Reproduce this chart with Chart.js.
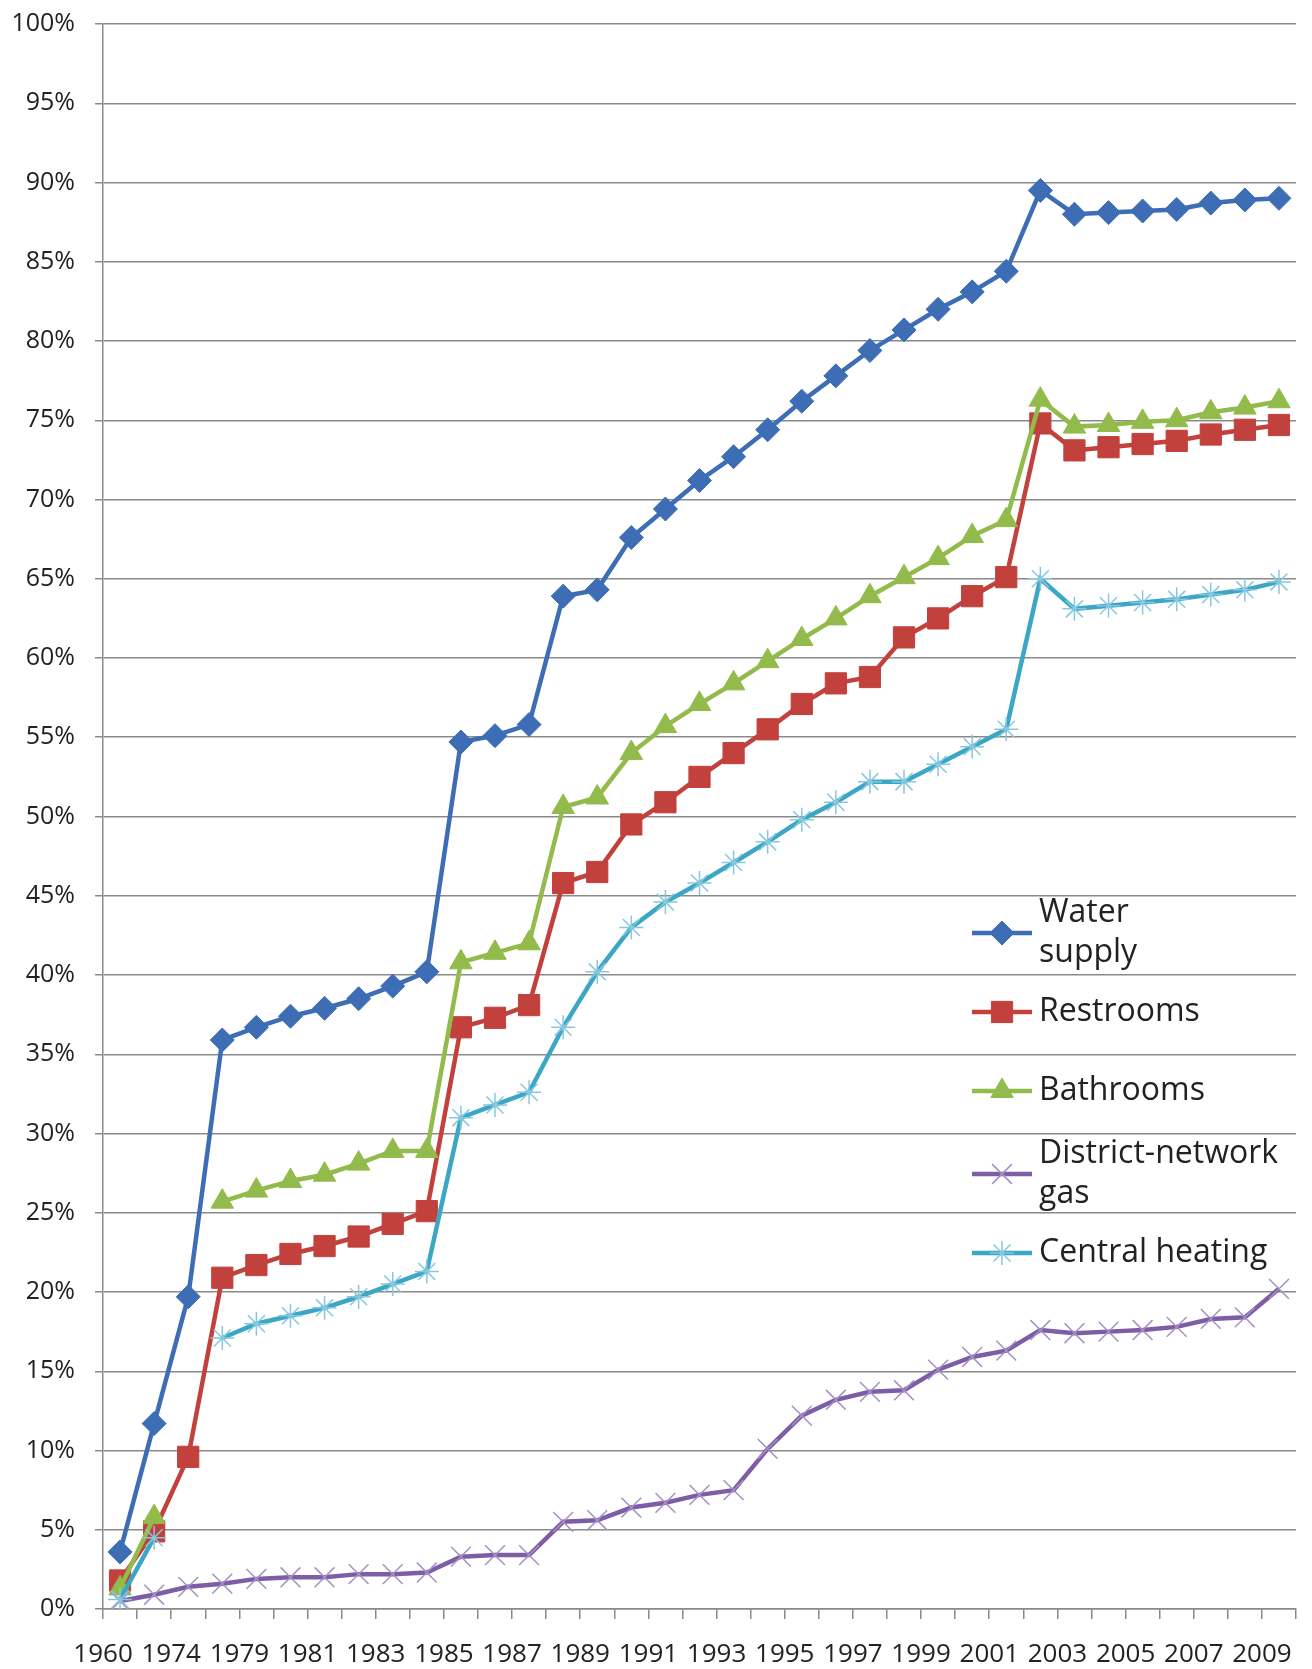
<!DOCTYPE html>
<html>
<head>
<meta charset="utf-8">
<script src="https://cdn.jsdelivr.net/npm/chart.js@4/dist/chart.umd.min.js"></script>
<style>
  html, body { margin: 0; padding: 0; background: #fff; }
  #wrap { width: 1312px; height: 1669px; position: relative; }
</style>
</head>
<body>
<div id="wrap"><canvas id="amenities-chart"></canvas></div>
<script>
// Categories (only every other one is labelled on the axis)
const years = ['1960', '1970', '1974', '1977', '1979', '1980', '1981', '1982', '1983', '1984',
    '1985', '1986', '1987', '1988', '1989', '1990', '1991', '1992', '1993', '1994',
    '1995', '1996', '1997', '1998', '1999', '2000', '2001', '2002', '2003', '2004',
    '2005', '2006', '2007', '2008', '2009'];

// Share of dwellings, %
const waterSupply = [3.6, 11.7, 19.7, 35.9, 36.7, 37.4, 37.9, 38.5, 39.3, 40.2,
    54.7, 55.1, 55.8, 63.9, 64.3, 67.6, 69.4, 71.2, 72.7, 74.4,
    76.2, 77.8, 79.4, 80.7, 82.0, 83.1, 84.4, 89.5, 88.0, 88.1,
    88.2, 88.3, 88.7, 88.9, 89.0];
const restrooms = [1.8, 4.9, 9.6, 20.9, 21.7, 22.4, 22.9, 23.5, 24.3, 25.1,
    36.7, 37.3, 38.1, 45.8, 46.5, 49.5, 50.9, 52.5, 54.0, 55.5,
    57.1, 58.4, 58.8, 61.3, 62.5, 63.9, 65.1, 74.8, 73.1, 73.3,
    73.5, 73.7, 74.1, 74.4, 74.7];
const bathrooms = [1.3, 5.8, null, 25.7, 26.4, 27.0, 27.4, 28.1, 28.9, 28.9,
    40.8, 41.4, 42.0, 50.6, 51.2, 54.0, 55.7, 57.1, 58.4, 59.8,
    61.2, 62.5, 63.9, 65.1, 66.3, 67.7, 68.7, 76.3, 74.6, 74.7,
    74.9, 75.0, 75.5, 75.8, 76.2];
const districtGas = [0.5, 0.9, 1.4, 1.6, 1.9, 2.0, 2.0, 2.2, 2.2, 2.3,
    3.3, 3.4, 3.4, 5.5, 5.6, 6.4, 6.7, 7.2, 7.5, 10.1,
    12.2, 13.2, 13.7, 13.8, 15.1, 15.9, 16.3, 17.6, 17.4, 17.5,
    17.6, 17.8, 18.3, 18.4, 20.2];
const centralHeating = [0.6, 4.5, null, 17.1, 18.0, 18.5, 19.0, 19.7, 20.5, 21.3,
    31.0, 31.8, 32.6, 36.7, 40.2, 43.0, 44.6, 45.8, 47.1, 48.4,
    49.8, 50.9, 52.2, 52.2, 53.3, 54.4, 55.5, 65.0, 63.1, 63.3,
    63.5, 63.7, 64.0, 64.3, 64.8];

// Legend text, as wrapped in the original
const legendText = [['Water', 'supply'], ['Restrooms'], ['Bathrooms'], ['District-network', 'gas'], ['Central heating']];

const gridColor = '#8a8a8a';
const textColor = '#222222';

function series(idx, values, color, style, radius, markerColor, markerWidth) {
    return {
        label: legendText[idx].join(' '),
        data: values,
        borderColor: color,
        backgroundColor: color,
        borderWidth: 4.5,
        pointStyle: style,
        pointRadius: radius,
        pointHoverRadius: radius,
        pointBackgroundColor: markerColor || color,
        pointBorderColor: markerColor || color,
        pointBorderWidth: markerWidth || 1,
        tension: 0,
        spanGaps: false,
        order: 5 - idx
    };
}

// Legend drawn inside the plot, right side
const insideLegend = {
    id: 'insideLegend',
    afterDatasetsDraw(chart) {
        const ctx = chart.ctx;
        const x0 = 972, x1 = 1032, tx = 1039;
        const rowY = [933, 1012, 1091, 1174, 1253];
        ctx.save();
        chart.data.datasets.forEach((ds, i) => {
            const y = rowY[i];
            ctx.strokeStyle = ds.borderColor;
            ctx.lineWidth = ds.borderWidth;
            ctx.beginPath();
            ctx.moveTo(x0, y);
            ctx.lineTo(x1, y);
            ctx.stroke();

            ctx.fillStyle = ds.pointBackgroundColor;
            ctx.strokeStyle = ds.pointBorderColor;
            ctx.lineWidth = ds.pointBorderWidth;
            Chart.helpers.drawPoint(ctx, {
                pointStyle: ds.pointStyle,
                radius: ds.pointRadius,
                borderWidth: ds.pointBorderWidth,
                rotation: 0
            }, (x0 + x1) / 2, y);

            const lines = legendText[i];
            ctx.fillStyle = textColor;
            ctx.font = '32px "Open Sans"';
            ctx.textAlign = 'left';
            ctx.textBaseline = 'middle';
            lines.forEach((t, j) => {
                ctx.fillText(t, tx, y + (j - (lines.length - 1) / 2) * 40);
            });
        });
        ctx.restore();
    }
};

const ctxEl = document.getElementById('amenities-chart');
new Chart(ctxEl.getContext('2d'), {
    type: 'line',
    data: {
        labels: years,
        datasets: [
            series(0, waterSupply, '#3d6db5', 'rectRot', 12),
            series(1, restrooms, '#c2413d', 'rect', 15),
            series(2, bathrooms, '#92bb4c', 'triangle', 13),
            series(3, districtGas, '#7d5ea6', 'crossRot', 14, '#a590c4', 1.5),
            series(4, centralHeating, '#3ba7c4', 'star', 12, '#86c8df', 1.5)
        ]
    },
    options: {
        responsive: true,
        maintainAspectRatio: false,
        animation: false,
        layout: {
            padding: { top: 24, right: 0, bottom: 0, left: 0 }
        },
        plugins: {
            legend: { display: false },
            tooltip: { enabled: false }
        },
        scales: {
            x: {
                offset: true,
                grid: {
                    offset: true,
                    drawOnChartArea: false,
                    drawTicks: true,
                    tickLength: 10,
                    color: gridColor,
                    lineWidth: 1.5
                },
                border: { display: true, color: gridColor, width: 1.5 },
                ticks: {
                    autoSkip: false,
                    maxRotation: 0,
                    minRotation: 0,
                    padding: 20,
                    labelOffset: -17,
                    color: textColor,
                    font: { family: 'Open Sans', size: 26 },
                    callback: function(val, i) {
                        return i % 2 === 0 ? years[i] : '';
                    }
                },
                afterFit: function(axis) {
                    axis.height = 60;
                    axis.paddingLeft = 0;
                    axis.paddingRight = 0;
                }
            },
            y: {
                min: 0,
                max: 100,
                grid: {
                    color: gridColor,
                    lineWidth: 1.5,
                    tickLength: 8
                },
                border: { display: true, color: gridColor, width: 1.5 },
                ticks: {
                    stepSize: 5,
                    padding: 20,
                    color: textColor,
                    font: { family: 'Open Sans', size: 25 },
                    callback: function(v) { return v + '%'; }
                },
                afterFit: function(axis) {
                    axis.width = 103;
                    axis.paddingTop = 0;
                    axis.paddingBottom = 0;
                }
            }
        }
    },
    plugins: [insideLegend]
});
</script>
</body>
</html>
